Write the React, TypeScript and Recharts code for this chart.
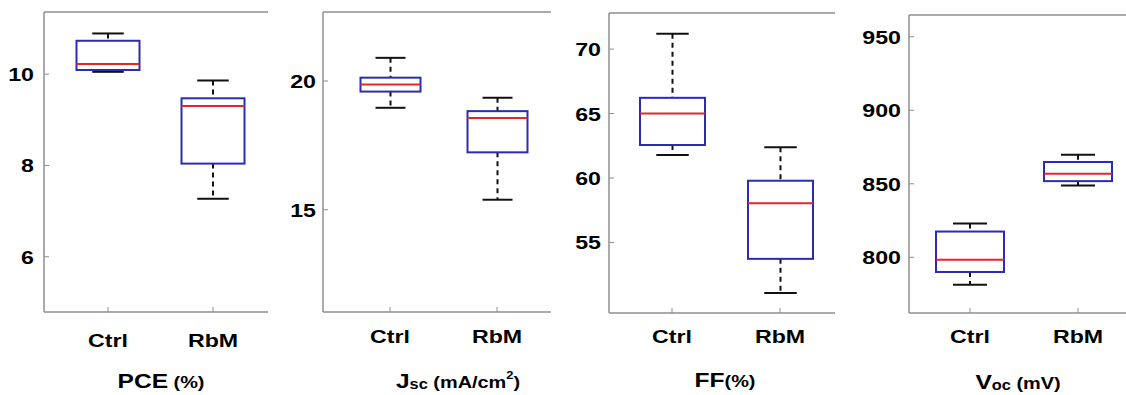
import { Bar, ComposedChart, XAxis, YAxis } from "recharts";

const groups = ["Ctrl", "RbM"];

// five-number summaries per group: [Ctrl, RbM]
const pceMin = [10.05, 7.27];
const pceQ1 = [10.09, 8.04];
const pceMed = [10.22, 9.3];
const pceQ3 = [10.73, 9.47];
const pceMax = [10.89, 9.86];

const jscMin = [18.96, 15.39];
const jscQ1 = [19.59, 17.23];
const jscMed = [19.86, 18.56];
const jscQ3 = [20.13, 18.83];
const jscMax = [20.9, 19.35];

const ffMin = [61.78, 51.08];
const ffQ1 = [62.56, 53.73];
const ffMed = [65.0, 58.05];
const ffQ3 = [66.22, 59.79];
const ffMax = [71.19, 62.38];

const vocMin = [781.4, 848.9];
const vocQ1 = [790, 851.8];
const vocMed = [798.4, 856.8];
const vocQ3 = [817.5, 864.8];
const vocMax = [823, 869.8];

const pceTicks = [6, 8, 10];
const jscTicks = [15, 20];
const ffTicks = [55, 60, 65, 70];
const vocTicks = [800, 850, 900, 950];

const AXIS = "#8f8f8f";
const BOX = "#2b2bb3";
const MEDIAN = "#e3262a";
const FONT = '"Liberation Sans", Arial, sans-serif';
// the text in this figure is set wide
const STRETCH = 1.22;

function buildRows(mn: number[], q1: number[], med: number[], q3: number[], mx: number[]) {
  return groups.map((g, i) => ({
    group: g,
    range: [mn[i], mx[i]],
    min: mn[i],
    q1: q1[i],
    med: med[i],
    q3: q3[i],
    max: mx[i],
  }));
}

function BoxShape(props: any) {
  const { x, y, width, height, payload } = props;
  if (!payload) return null;
  const top = Math.min(y, y + height);
  const h = Math.abs(height);
  const { min, q1, med, q3, max } = payload;
  const py = (v: number) => top + ((max - v) / (max - min || 1)) * h;
  const cx = x + width / 2;
  const cap = width / 4;
  return (
    <g>
      <line x1={cx} x2={cx} y1={py(max)} y2={py(q3)} stroke="#111" strokeWidth={2} strokeDasharray="5 4" />
      <line x1={cx} x2={cx} y1={py(q1)} y2={py(min)} stroke="#111" strokeWidth={2} strokeDasharray="5 4" />
      <line x1={cx - cap} x2={cx + cap} y1={py(max)} y2={py(max)} stroke="#111" strokeWidth={2} />
      <line x1={cx - cap} x2={cx + cap} y1={py(min)} y2={py(min)} stroke="#111" strokeWidth={2} />
      <rect x={x} y={py(q3)} width={width} height={py(q1) - py(q3)} fill="none" stroke={BOX} strokeWidth={2} />
      <line x1={x} x2={x + width} y1={py(med)} y2={py(med)} stroke={MEDIAN} strokeWidth={2} />
    </g>
  );
}

function YTick({ x, y, payload, gap }: any) {
  return (
    <g>
      <line x1={x + gap} x2={x + gap + 5} y1={y} y2={y} stroke={AXIS} strokeWidth={1} />
      <text
        transform={`translate(${x} ${y + 7}) scale(${STRETCH} 1)`}
        textAnchor="end"
        fontFamily={FONT}
        fontWeight="bold"
        fontSize={19}
        fill="#000"
      >
        {payload.value}
      </text>
    </g>
  );
}

function XTick({ x, y, payload, dy }: any) {
  return (
    <g>
      <line x1={x} x2={x} y1={y} y2={y - 5} stroke={AXIS} strokeWidth={1} />
      <text
        transform={`translate(${x} ${y + dy}) scale(${STRETCH} 1)`}
        textAnchor="middle"
        fontFamily={FONT}
        fontWeight="bold"
        fontSize={19}
        fill="#000"
      >
        {payload.value}
      </text>
    </g>
  );
}

interface PanelProps {
  rows: ReturnType<typeof buildRows>;
  ticks: number[];
  domain: [number, number];
  chartLeft: number;
  chartWidth: number;
  plotLeft: number;
  plotRight: number;
  plotTop: number;
  plotBottom: number;
  padLeft: number;
  padRight: number;
  boxWidth: number;
  gap: number;
  labelDy: number;
}

function BoxPanel(p: PanelProps) {
  const height = 395;
  const xHeight = 40;
  return (
    <div style={{ position: "absolute", left: p.chartLeft, top: 0 }}>
      <ComposedChart
        width={p.chartWidth}
        height={height}
        data={p.rows}
        margin={{
          top: p.plotTop - 1,
          left: 0,
          right: p.chartLeft + p.chartWidth - p.plotRight,
          bottom: height - p.plotBottom - xHeight,
        }}
      >
        <XAxis
          xAxisId="t"
          orientation="top"
          dataKey="group"
          height={1}
          mirror
          tick={false}
          tickSize={4}
          tickLine={{ stroke: AXIS }}
          axisLine={{ stroke: AXIS, strokeWidth: 1.5 }}
          padding={{ left: p.padLeft, right: p.padRight }}
        />
        <XAxis
          xAxisId="b"
          dataKey="group"
          height={xHeight}
          tickSize={0}
          tickMargin={0}
          tickLine={false}
          axisLine={{ stroke: AXIS, strokeWidth: 1.5 }}
          padding={{ left: p.padLeft, right: p.padRight }}
          tick={(t: any) => <XTick {...t} dy={p.labelDy} />}
          interval={0}
        />
        <YAxis
          type="number"
          domain={p.domain}
          ticks={p.ticks}
          allowDataOverflow
          width={p.plotLeft - p.chartLeft}
          tickSize={0}
          tickMargin={p.gap}
          tickLine={false}
          axisLine={{ stroke: AXIS, strokeWidth: 1.5 }}
          tick={(t: any) => <YTick {...t} gap={p.gap} />}
          interval={0}
        />
        <Bar
          xAxisId="b"
          dataKey="range"
          barSize={p.boxWidth}
          shape={<BoxShape />}
          isAnimationActive={false}
        />
      </ComposedChart>
    </div>
  );
}

const titleStyle = { fontFamily: FONT, fontWeight: "bold" as const, fill: "#000" };
const titleScale = (x: number, y: number) => `translate(${x} ${y}) scale(1.17 1)`;

export default function App() {
  return (
    <div
      style={{
        position: "absolute",
        left: 0,
        top: 0,
        width: 1126,
        height: 395,
        overflow: "hidden",
        background: "#fff",
      }}
    >
      <BoxPanel
        rows={buildRows(pceMin, pceQ1, pceMed, pceQ3, pceMax)}
        ticks={pceTicks}
        domain={[4.79, 11.36]}
        chartLeft={0}
        chartWidth={280}
        plotLeft={44}
        plotRight={268}
        plotTop={13}
        plotBottom={312}
        padLeft={11.5}
        padRight={2.5}
        boxWidth={63}
        gap={10}
        labelDy={35}
      />
      <BoxPanel
        rows={buildRows(jscMin, jscQ1, jscMed, jscQ3, jscMax)}
        ticks={jscTicks}
        domain={[11.03, 22.68]}
        chartLeft={280}
        chartWidth={280}
        plotLeft={323}
        plotRight={551}
        plotTop={13}
        plotBottom={312}
        padLeft={13.5}
        padRight={0.5}
        boxWidth={60}
        gap={7}
        labelDy={31}
      />
      <BoxPanel
        rows={buildRows(ffMin, ffQ1, ffMed, ffQ3, ffMax)}
        ticks={ffTicks}
        domain={[49.53, 72.8]}
        chartLeft={560}
        chartWidth={280}
        plotLeft={609}
        plotRight={835}
        plotTop={14}
        plotBottom={313}
        padLeft={9}
        padRight={1}
        boxWidth={65}
        gap={8}
        labelDy={30}
      />
      <BoxPanel
        rows={buildRows(vocMin, vocQ1, vocMed, vocQ3, vocMax)}
        ticks={vocTicks}
        domain={[762.1, 964.8]}
        chartLeft={840}
        chartWidth={300}
        plotLeft={909}
        plotRight={1140}
        plotTop={16}
        plotBottom={313}
        padLeft={7}
        padRight={8}
        boxWidth={68}
        gap={8}
        labelDy={30}
      />
      <svg width={1126} height={395} style={{ position: "absolute", left: 0, top: 0, pointerEvents: "none" }}>
        <text transform={titleScale(161, 388)} textAnchor="middle" {...titleStyle}>
          <tspan fontSize={21}>PCE</tspan>
          <tspan fontSize={17}> (%)</tspan>
        </text>
        <text transform={titleScale(458, 388)} textAnchor="middle" {...titleStyle}>
          <tspan fontSize={21}>J</tspan>
          <tspan fontSize={14} dy={1}>sc</tspan>
          <tspan fontSize={17} dy={-1}> (mA/cm</tspan>
          <tspan fontSize={11} dy={-9}>2</tspan>
          <tspan fontSize={17} dy={9}>)</tspan>
        </text>
        <text transform={titleScale(725, 387)} textAnchor="middle" {...titleStyle}>
          <tspan fontSize={21}>FF</tspan>
          <tspan fontSize={17}>(%)</tspan>
        </text>
        <text transform={titleScale(1018, 389)} textAnchor="middle" {...titleStyle}>
          <tspan fontSize={21}>V</tspan>
          <tspan fontSize={14} dy={1}>oc</tspan>
          <tspan fontSize={17} dy={-1}> (mV)</tspan>
        </text>
      </svg>
    </div>
  );
}
